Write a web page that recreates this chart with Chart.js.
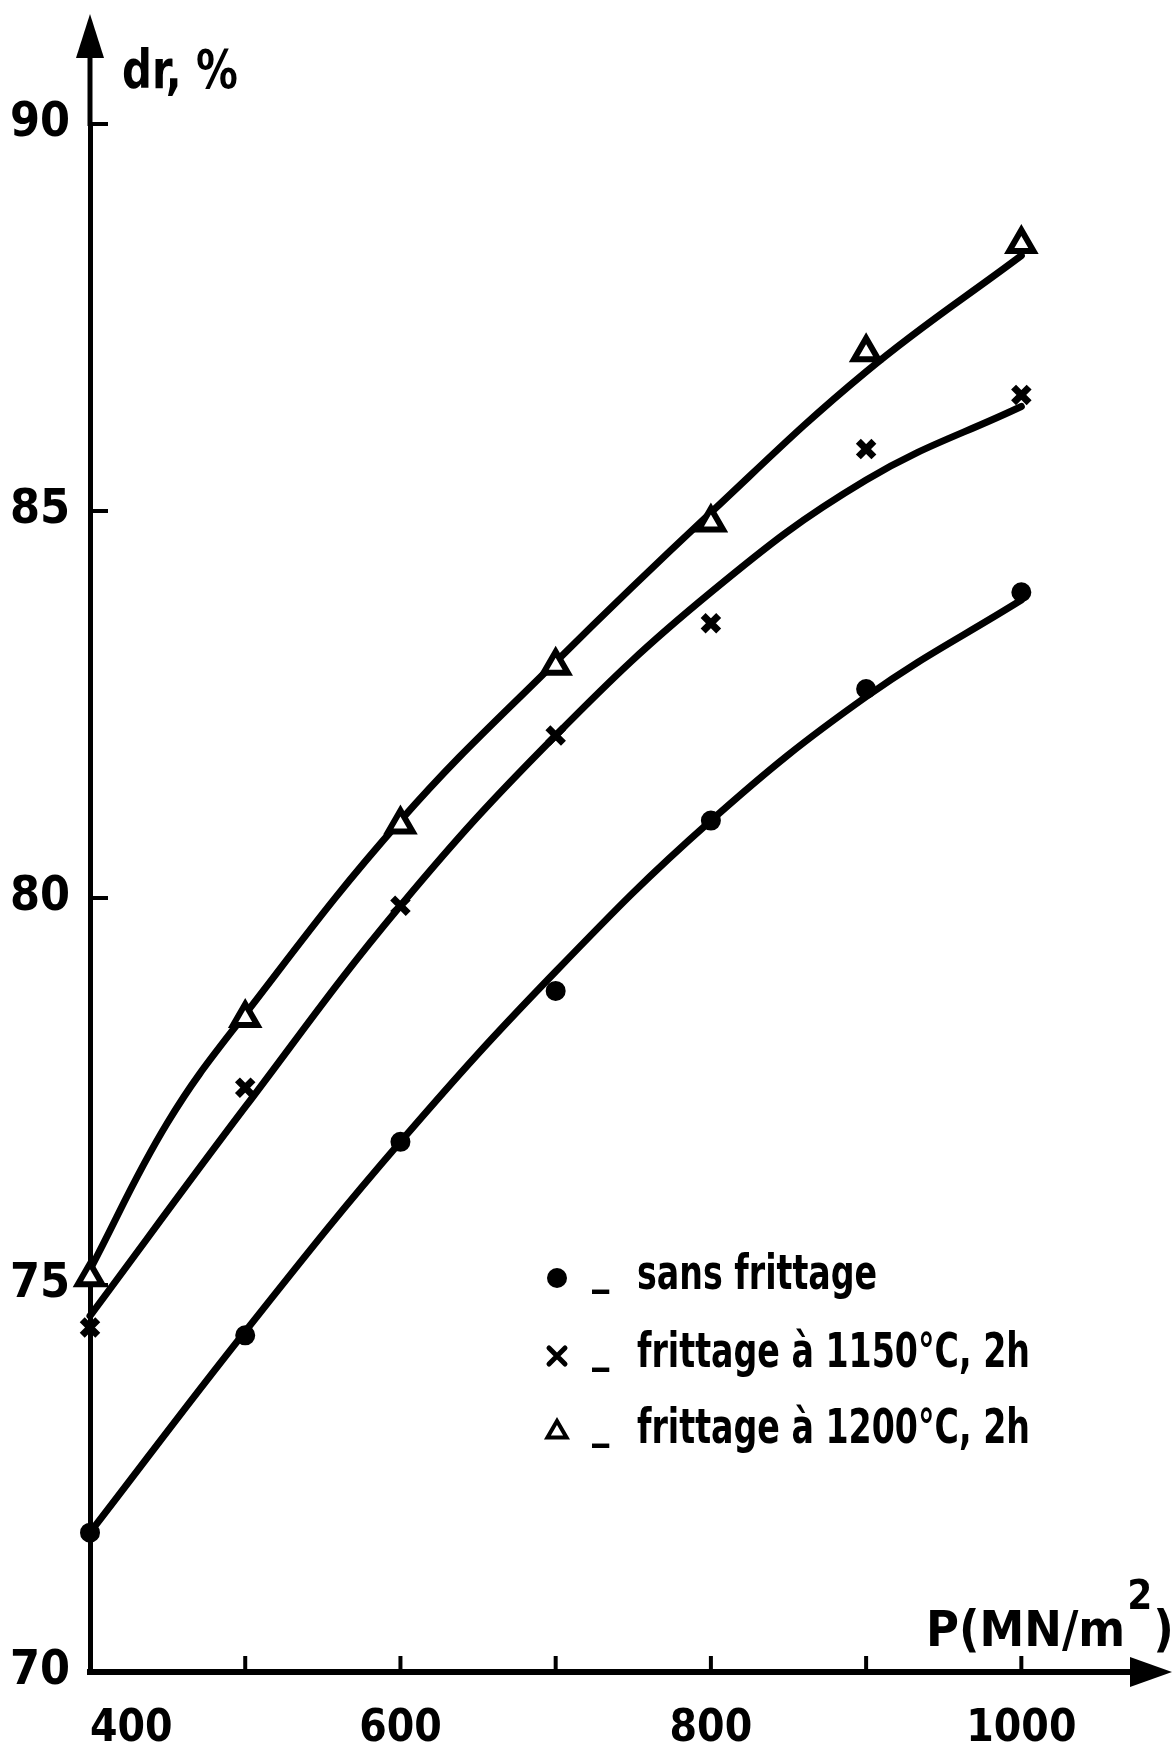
<!DOCTYPE html>
<html>
<head>
<meta charset="utf-8">
<script src="https://cdn.jsdelivr.net/npm/chart.js@4.4.0/dist/chart.umd.min.js"></script>
<style>
  html, body { margin: 0; padding: 0; background: #fff; }
</style>
</head>
<body>
<canvas id="densityChart" width="1176" height="1760"></canvas>
<script>
// pression de compactage (MN/m2)
var pressure = [400, 500, 600, 700, 800, 900, 1000];
// points mesures, dr %
var sansFrittage = [71.8, 74.35, 76.85, 78.8, 81.0, 82.7, 83.95];
var frittage1150 = [74.45, 77.55, 79.9, 82.1, 83.55, 85.8, 86.5];
var frittage1200 = [75.1, 78.45, 80.95, 83.0, 84.85, 87.05, 88.45];
// courbes tracees a la main sur l'original
var curveP = [400, 500, 600, 700, 800, 900, 1000];
var curveSans = [71.8, 74.4, 76.85, 79.05, 81.0, 82.6, 83.85];
var curve1150 = [74.6, 77.3, 79.9, 82.1, 83.95, 85.4, 86.35];
var curveP1200 = [400, 450, 500, 600, 700, 800, 900, 1000];
var curve1200 = [75.2, 77.1, 78.5, 81.0, 83.05, 84.98, 86.8, 88.3];
var seriesNames = ["sans frittage", "frittage à 1150°C, 2h", "frittage à 1200°C, 2h"];
var xTickLabels = [400, 600, 800, 1000];
var yTickStep = 5;

var condFont = "'DejaVu Sans Condensed', 'DejaVu Sans', sans-serif";
var chartDensity;

function toPoints(xs, ys) {
  var pts = [];
  for (var i = 0; i < xs.length; i++) {
    pts.push({ x: xs[i], y: ys[i] });
  }
  return pts;
}

function markerSet(label, values, style, radius, width, fill) {
  return {
    label: label,
    data: toPoints(pressure, values),
    showLine: false,
    pointStyle: style,
    pointRadius: radius,
    pointHoverRadius: radius,
    pointBorderWidth: width,
    pointBackgroundColor: fill,
    pointBorderColor: "#000",
    borderColor: "#000",
    backgroundColor: fill,
    clip: false,
  };
}

function curveSet(xs, values) {
  return {
    label: "",
    data: toPoints(xs, values),
    borderColor: "#000",
    borderWidth: 7,
    pointRadius: 0,
    tension: 0.4,
    borderCapStyle: "round",
    fill: false,
    clip: false,
  };
}

function drawMark(c, style, x, y, r, w) {
  c.save();
  c.lineWidth = w;
  c.strokeStyle = "#000";
  c.fillStyle = "#000";
  c.lineCap = "round";
  c.beginPath();
  if (style == "circle") {
    c.arc(x, y, r, 0, Math.PI * 2);
    c.fill();
  } else if (style == "crossRot") {
    c.moveTo(x - r, y - r);
    c.lineTo(x + r, y + r);
    c.moveTo(x + r, y - r);
    c.lineTo(x - r, y + r);
    c.stroke();
  } else {
    c.moveTo(x, y - r);
    c.lineTo(x + r * 0.87, y + r * 0.5);
    c.lineTo(x - r * 0.87, y + r * 0.5);
    c.closePath();
    c.fillStyle = "#fff";
    c.fill();
    c.stroke();
  }
  c.restore();
}

// texte un peu resserre, comme la police etroite de l'original
function narrowText(c, txt, x, y, sx) {
  c.save();
  c.translate(x, y);
  c.scale(sx, 1);
  c.fillText(txt, 0, 0);
  var w = c.measureText(txt).width * sx;
  c.restore();
  return w;
}

//fleches, graduations, titres des axes et legende
var paperAxes = {
  id: "paperAxes",
  afterDraw: function (chart) {
    var c = chart.ctx;
    var a = chart.chartArea;
    var xs = chart.scales.x;
    var ys = chart.scales.y;
    var lastP = pressure[pressure.length - 1];
    c.save();
    c.strokeStyle = "#000";
    c.fillStyle = "#000";

    // axe vertical prolonge + fleche
    c.lineWidth = 5;
    c.beginPath();
    c.moveTo(a.left, a.top + 2);
    c.lineTo(a.left, 50);
    c.stroke();
    c.beginPath();
    c.moveTo(a.left, 14);
    c.lineTo(a.left + 14, 58);
    c.lineTo(a.left - 14, 58);
    c.closePath();
    c.fill();

    // fleche horizontale
    c.beginPath();
    c.moveTo(a.right + 42, a.bottom);
    c.lineTo(a.right, a.bottom - 15);
    c.lineTo(a.right, a.bottom + 15);
    c.closePath();
    c.fill();

    // graduations vers l'interieur
    c.lineWidth = 4;
    xs.ticks.forEach(function (t) {
      if (t.value <= pressure[0] || t.value > lastP) return;
      var px = xs.getPixelForValue(t.value);
      c.beginPath();
      c.moveTo(px, a.bottom);
      c.lineTo(px, a.bottom - 16);
      c.stroke();
    });
    ys.ticks.forEach(function (t) {
      if (t.value <= ys.min) return;
      var py = ys.getPixelForValue(t.value);
      c.beginPath();
      c.moveTo(a.left, py);
      c.lineTo(a.left + 18, py);
      c.stroke();
    });

    // titres
    c.textAlign = "left";
    c.textBaseline = "alphabetic";
    c.font = "bold 54px " + condFont;
    narrowText(c, "dr, %", a.left + 32, 88, 0.86);
    c.font = "bold 50px " + condFont;
    var tx = 926;
    tx += narrowText(c, "P(MN/m", tx, a.bottom - 26, 1) + 2;
    c.font = "bold 40px " + condFont;
    tx += narrowText(c, "2", tx, a.bottom - 63, 1) + 1;
    c.font = "bold 50px " + condFont;
    narrowText(c, ")", tx, a.bottom - 26, 1);

    // legende
    var styles = ["circle", "crossRot", "triangle"];
    var sizes = [10, 8, 11];
    var widths = [2, 5, 4];
    var rowY = [1289, 1367, 1443];
    c.font = "bold 48px " + condFont;
    for (var i = 0; i < seriesNames.length; i++) {
      drawMark(c, styles[i], 557, rowY[i] - 11, sizes[i], widths[i]);
      narrowText(c, "_", 592, rowY[i] - 6, 0.8);
      narrowText(c, seriesNames[i], 637, rowY[i], 0.77);
    }
    c.restore();
  },
};

var ctx = document.getElementById("densityChart");
chartDensity = new Chart(ctx, {
  type: "line",
  data: {
    datasets: [
      markerSet(seriesNames[0], sansFrittage, "circle", 9, 2, "#000"),
      markerSet(seriesNames[1], frittage1150, "crossRot", 11, 7, "#000"),
      markerSet(seriesNames[2], frittage1200, "triangle", 14, 6, "#fff"),
      curveSet(curveP, curveSans),
      curveSet(curveP, curve1150),
      curveSet(curveP1200, curve1200),
    ],
  },
  options: {
    responsive: false,
    animation: false,
    devicePixelRatio: 1,
    layout: { padding: { top: 124, right: 46, left: 0, bottom: 0 } },
    plugins: {
      legend: { display: false },
      tooltip: { enabled: false },
    },
    scales: {
      x: {
        type: "linear",
        min: 400,
        max: 1070,
        afterFit: function (s) {
          s.height = 88;
        },
        afterBuildTicks: function (s) {
          // graduations aux pressions mesurees + fin de l'axe (fleche)
          var t = [];
          pressure.forEach(function (p) {
            t.push({ value: p });
          });
          t.push({ value: s.max });
          s.ticks = t;
        },
        border: { color: "#000", width: 6 },
        grid: { drawOnChartArea: false, drawTicks: false, color: "#000" },
        ticks: {
          autoSkip: false,
          maxRotation: 0,
          align: "inner",
          padding: 31,
          color: "#000",
          font: { family: condFont, size: 44, weight: "bold" },
          callback: function (v) {
            return xTickLabels.indexOf(v) >= 0 ? String(v) : "";
          },
        },
      },
      y: {
        type: "linear",
        min: 70,
        max: 90,
        afterFit: function (s) {
          s.width = 90;
        },
        border: { color: "#000", width: 5 },
        grid: { drawOnChartArea: false, drawTicks: false, color: "#000" },
        ticks: {
          stepSize: yTickStep,
          padding: 20,
          color: "#000",
          font: { family: condFont, size: 48, weight: "bold" },
        },
      },
    },
  },
  plugins: [paperAxes],
});
</script>
</body>
</html>
